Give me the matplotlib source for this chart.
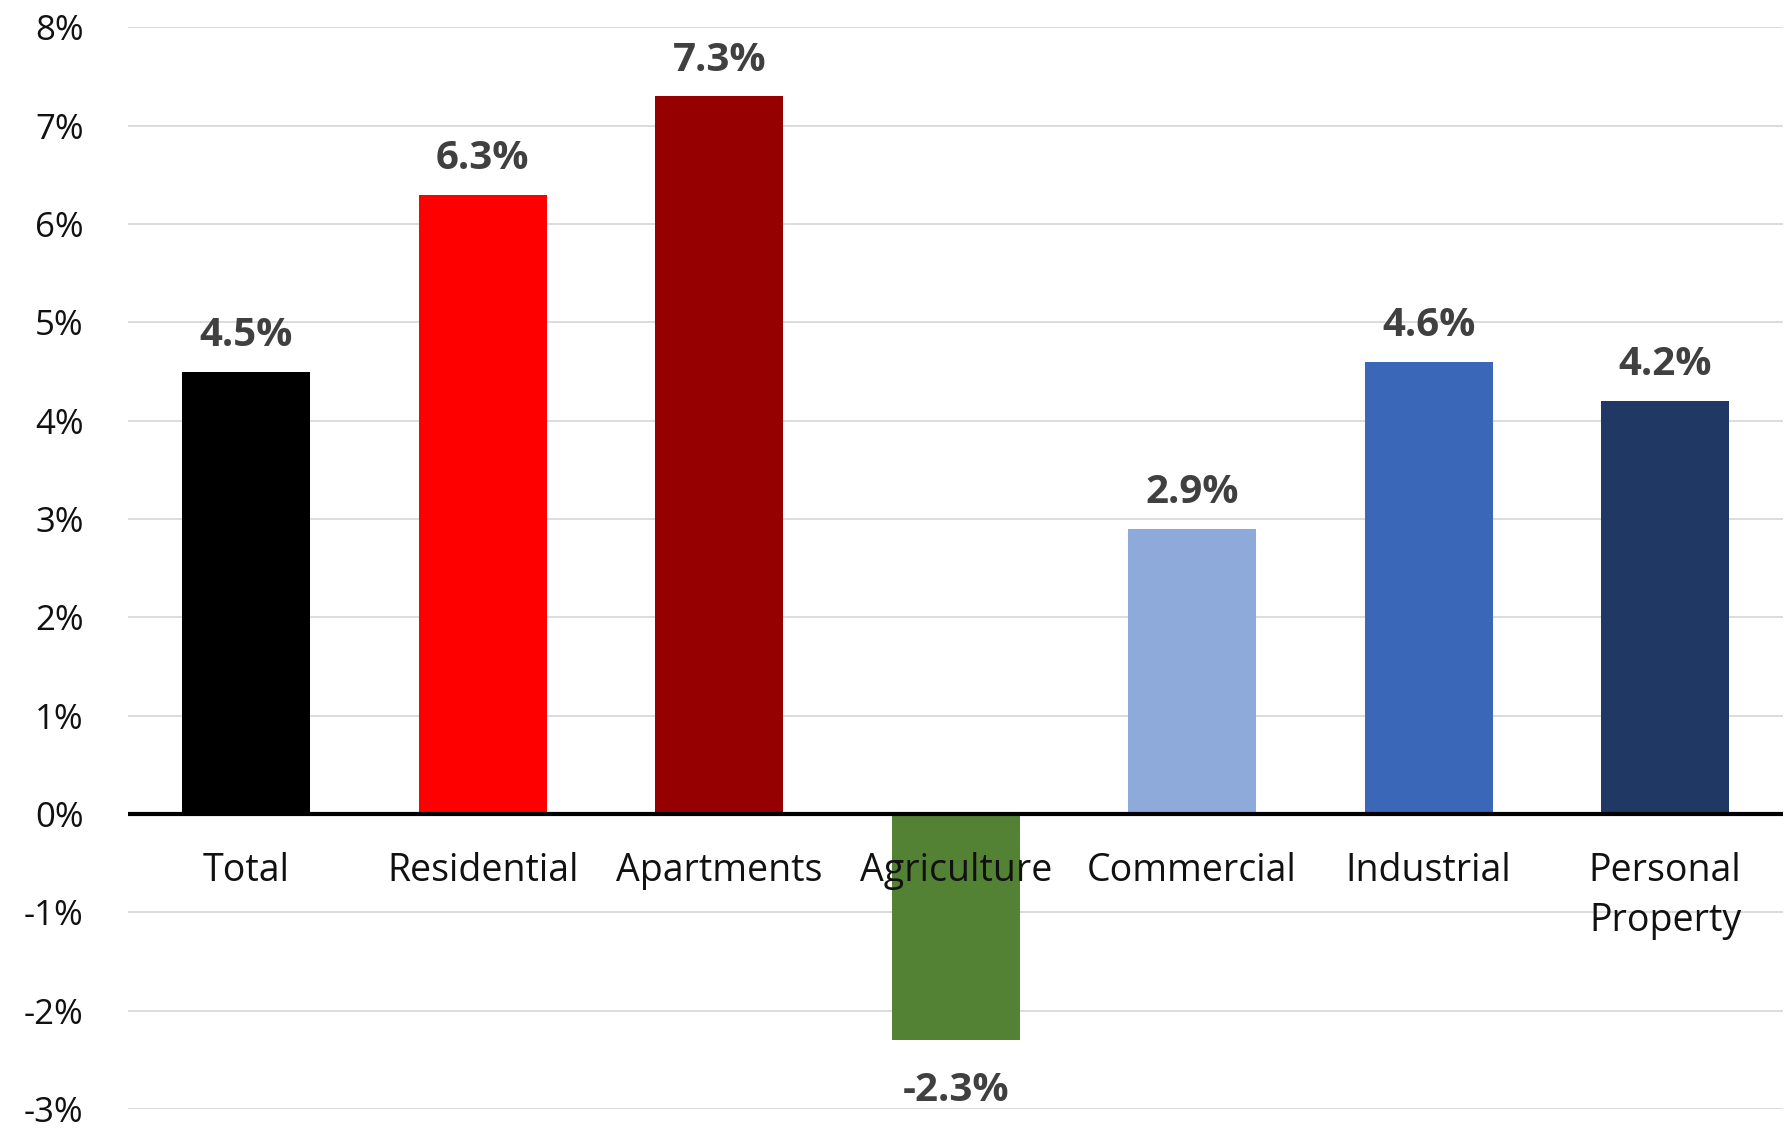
import matplotlib.pyplot as plt
from matplotlib.ticker import FuncFormatter

# Data
categories = ["Total", "Residential", "Apartments", "Agriculture",
              "Commercial", "Industrial", "Personal\nProperty"]
values = [4.5, 6.3, 7.3, -2.3, 2.9, 4.6, 4.2]
colors = ["#000000", "#ff0000", "#960000", "#548235",
          "#8eaadb", "#3b67b8", "#203864"]
yticks = list(range(-3, 9))

plt.rcParams['font.family'] = ['Open Sans', 'DejaVu Sans']

fig = plt.figure(figsize=(17.87, 11.28), dpi=100)
ax = fig.add_axes([0.0716, 0.0168, 0.9264, 0.9589])

x = list(range(len(categories)))
ax.bar(x, values, width=0.54, color=colors, zorder=2)

ax.set_xlim(-0.5, len(categories) - 0.5)
ax.set_ylim(-3, 8)
ax.set_yticks(yticks)
ax.yaxis.set_major_formatter(FuncFormatter(lambda v, p: f"{v:.0f}%"))
ax.tick_params(axis='y', length=0, pad=32, labelsize=25, labelcolor='#111111')
ax.set_xticks([])

# gridlines
ax.grid(axis='y', color='#d9d9d9', linewidth=1.3, zorder=0)
for s in ax.spines.values():
    s.set_visible(False)
ax.axhline(0, color='black', linewidth=3, zorder=3)

# category labels just below the zero line
for xi, name in zip(x, categories):
    ax.annotate(name, (xi, 0), xytext=(0, -27), textcoords='offset points',
                ha='center', va='top', fontsize=27, color='#111111',
                linespacing=1.43, zorder=4)

# value labels
for xi, v in zip(x, values):
    off = 26 if v >= 0 else -36
    ax.annotate(f"{v:.1f}%", (xi, v), xytext=(0, off), textcoords='offset points',
                ha='center', va='center', fontsize=29, fontweight='bold',
                color='#404040', zorder=4)

fig.savefig("out.png", dpi=100)
